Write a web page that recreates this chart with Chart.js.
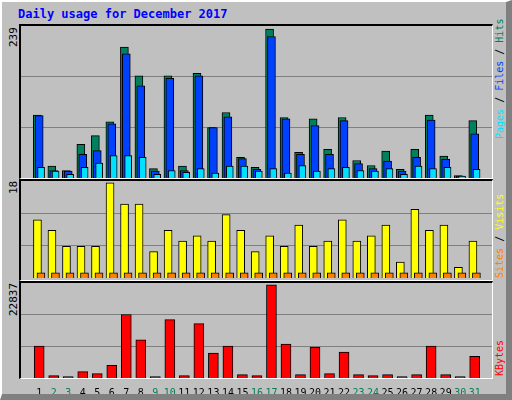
<!DOCTYPE html>
<html lang="en">
<head>
<meta charset="UTF-8">
<title>Daily usage</title>
<style>
    body { margin: 0; }
    .frame {
        position: relative; width: 504px; height: 392px;
        background: #c0c0c0; border-left: 2px solid #fff; border-top: 2px solid #fff;
        border-right: 6px solid #808080; border-bottom: 6px solid #808080;
        font-family: "DejaVu Sans Mono", monospace; overflow: hidden;
    }
    .title { position: absolute; left: 16px; top: 5px; font-size: 12px; font-weight: bold; color: #0000ff; }
    .panel { position: absolute; left: 17px; width: 471px; border-left: 2px solid #000; border-top: 2px solid #000;
             border-right: 1px solid #fff; border-bottom: 1px solid #fff; }
    canvas { position: absolute; }
    .up { position: absolute; transform: rotate(-90deg); transform-origin: left top; font-size: 10px; white-space: nowrap; }
</style>
</head>
<body>
<div class="frame">
    <div class="title">Daily usage for December 2017</div>
    <div class="panel" style="top:22px;height:152px"></div>
    <div class="panel" style="top:177px;height:99px"></div>
    <div class="panel" style="top:279px;height:95px"></div>
    <div class="up" style="left:5px;top:45px;font-size:11px">239</div>
    <div class="up" style="left:5px;top:192px;font-size:11px">18</div>
    <div class="up" style="left:5px;top:314px;font-size:11px">22837</div>
    <div class="up" style="left:492px;top:137px"><span style="color:#00e0ff">Pages</span> / <span style="color:#0040ff">Files</span> / <span style="color:#00805c">Hits</span></div>
    <div class="up" style="left:492px;top:276px"><span style="color:#ff8000">Sites</span> / <span style="color:#ffff00">Visits</span></div>
    <div class="up" style="left:492px;top:374px"><span style="color:#ff0000">KBytes</span></div>
    <canvas id="c1" style="left:19px;top:24px"></canvas>
    <canvas id="c2" style="left:19px;top:179px"></canvas>
    <canvas id="c3" style="left:19px;top:281px"></canvas>
</div>
<script src="https://cdn.jsdelivr.net/npm/chart.js"></script>
<script>
    const days = Array.from({length: 31}, (_, i) => i + 1);
    const weekend = [2, 3, 9, 10, 16, 17, 23, 24, 30, 31];

    const hits   = [101, 19, 12, 54, 68, 90, 210, 164, 15, 164, 19, 168, 81, 105, 33, 17, 239, 97, 41, 95, 46, 97, 28, 20, 43, 14, 46, 101, 35, 4, 92];
    const files  = [100, 12, 11, 38, 44, 87, 199, 148, 11, 160, 12, 164, 81, 98, 31, 14, 227, 95, 38, 84, 38, 92, 23, 15, 27, 11, 33, 93, 30, 3, 71];
    const pages  = [17, 11, 6, 17, 24, 36, 36, 33, 6, 12, 9, 15, 8, 19, 19, 11, 15, 8, 20, 11, 15, 17, 12, 11, 15, 6, 19, 15, 17, 3, 14];
    const visits = [11, 9, 6, 6, 6, 18, 14, 14, 5, 9, 7, 8, 7, 12, 9, 5, 8, 6, 10, 6, 7, 11, 7, 8, 10, 3, 13, 9, 10, 2, 7];
    const sites  = [1, 1, 1, 1, 1, 1, 1, 1, 1, 1, 1, 1, 1, 1, 1, 1, 1, 1, 1, 1, 1, 1, 1, 1, 1, 1, 1, 1, 1, 1, 1];
    const kbytes = [7830, 580, 330, 1580, 1080, 3080, 15580, 9330, 330, 14330, 580, 13330, 6080, 7830, 830, 580, 22837, 8330, 830, 7580, 1080, 6330, 830, 580, 830, 330, 830, 7830, 830, 330, 5330];

    const pts = (vals, shift) => vals.map((v, i) => ({x: days[i] + shift, y: v}));
    const ds = (label, vals, shift, color, w, order) => ({
        label, data: pts(vals, shift), backgroundColor: color, borderColor: '#000',
        borderWidth: 1, barThickness: w, order, grouped: false
    });

    const makeOpts = (max, showX) => ({
        responsive: false, animation: false, events: [],
        layout: { padding: 0 },
        plugins: { legend: { display: false }, tooltip: { enabled: false } },
        scales: {
            x: {
                type: 'linear', min: 0.27, max: 31.67, display: showX,
                grid: { display: false }, border: { display: false },
                afterBuildTicks: s => { s.ticks = days.map(d => ({value: d})); },
                ticks: {
                    autoSkip: false, maxRotation: 0, padding: 1,
                    font: { family: 'DejaVu Sans Mono', size: 10 },
                    color: c => weekend.includes(c.tick.value) ? '#00805c' : '#000'
                }
            },
            y: {
                min: 0, max: max * 1.02, border: { display: false },
                afterBuildTicks: s => { s.ticks = [1, 2].map(k => ({value: max * 1.02 * k / 3})); },
                ticks: { display: false },
                grid: { color: '#808080', drawTicks: false, lineWidth: 1 }
            }
        }
    });

    const setSize = (id, w, h) => { const c = document.getElementById(id); c.width = w; c.height = h; return c; };

    new Chart(setSize('c1', 471, 152), {
        type: 'bar',
        data: { datasets: [
            ds('Pages', pages, 0.13, '#00e0ff', 7, 0),
            ds('Files', files, 0, '#0040ff', 8, 1),
            ds('Hits', hits, -0.13, '#00805c', 8, 2)
        ] },
        options: makeOpts(239, false)
    });

    new Chart(setSize('c2', 471, 97), {
        type: 'bar',
        data: { datasets: [
            ds('Sites', sites, 0.12, '#ff8000', 8, 0),
            ds('Visits', visits, -0.12, '#ffff00', 8, 1)
        ] },
        options: makeOpts(18, false)
    });

    new Chart(setSize('c3', 471, 117), {
        type: 'bar',
        data: { datasets: [ ds('KBytes', kbytes, 0, '#ff0000', 10, 0) ] },
        options: makeOpts(22837, true)
    });
</script>
</body>
</html>
